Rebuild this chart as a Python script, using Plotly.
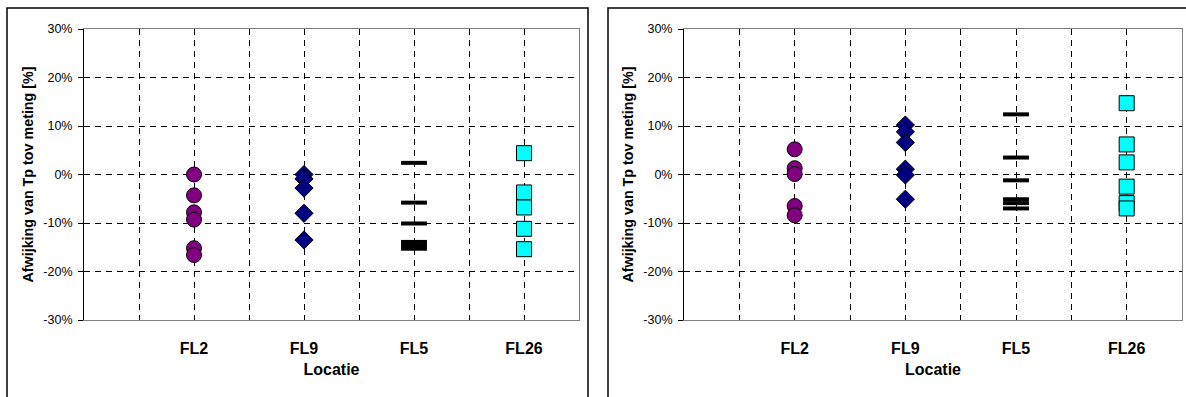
import plotly.graph_objects as go

# ---------------- data (percent deviation of Tp vs measurement) ----------------
categories = ["FL2", "FL9", "FL5", "FL26"]
cat_pos = [2, 4, 6, 8]
y_ticks = [-30, -20, -10, 0, 10, 20, 30]
y_ticktext = ["-30%", "-20%", "-10%", "0%", "10%", "20%", "30%"]
grid_y = [-20, -10, 0, 10, 20]
grid_x_minor = [1, 3, 5, 7]

left_FL2 = [0.0, -4.3, -7.8, -9.3, -15.2, -16.6]
left_FL9 = [0.0, -0.9, -2.8, -8.0, -13.5]
left_FL5 = [2.4, -5.8, -10.1, -13.9, -14.6, -15.3]
left_FL26 = [4.4, -3.7, -6.8, -11.2, -15.4]

right_FL2 = [5.2, 1.3, 0.1, -6.5, -8.4]
right_FL9 = [10.2, 8.8, 6.6, 1.1, -0.1, -5.1]
right_FL5 = [12.4, 3.5, -1.2, -5.1, -5.9, -7.0]
right_FL26 = [14.7, 6.2, 2.5, -2.5, -5.9, -7.0]

left_series = [left_FL2, left_FL9, left_FL5, left_FL26]
right_series = [right_FL2, right_FL9, right_FL5, right_FL26]

# ---------------- styles ----------------
W, H = 1186, 397
FONT = "Arial, 'Liberation Sans', sans-serif"
DASH = "6px,5px"

styles = [
    dict(symbol="circle", size=15, color="#800080", line=dict(color="black", width=1)),
    dict(symbol="diamond", size=14, color="#000080", line=dict(color="black", width=1)),
    dict(symbol="line-ew", size=18.5, color="black", line=dict(color="black", width=4)),
    dict(symbol="square", size=15, color="#00FFFF", line=dict(color="black", width=1)),
]

fig = go.Figure()

def add_panel(series, xa, ya):
    for name, pos, vals, st in zip(categories, cat_pos, series, styles):
        fig.add_trace(go.Scatter(
            x=[pos] * len(vals), y=vals, mode="markers", name=name,
            marker=st, xaxis=xa, yaxis=ya, showlegend=False, cliponaxis=False,
        ))

add_panel(left_series, "x", "y")
add_panel(right_series, "x2", "y2")
fig.add_trace(go.Scatter(x=[], y=[], xaxis="x", yaxis="y3", showlegend=False, hoverinfo="skip"))
fig.add_trace(go.Scatter(x=[], y=[], xaxis="x2", yaxis="y4", showlegend=False, hoverinfo="skip"))

px = lambda v: v / W
py = lambda v: 1 - v / H

ydom = [py(320), py(29)]
xdom1 = [px(84), px(579)]
xdom2 = [px(684), px(1182)]

def xaxis_cfg(dom, anchor):
    return dict(
        domain=dom, anchor=anchor, range=[0, 9], automargin=False,
        tickmode="array", tickvals=cat_pos, ticktext=categories,
        ticks="", ticklabelstandoff=14,
        tickfont=dict(family=FONT, size=16, color="black", weight="bold"),
        showgrid=True, gridcolor="black", griddash=DASH, gridwidth=1,
        minor=dict(tickmode="array", tickvals=grid_x_minor, showgrid=True,
                   gridcolor="black", griddash=DASH, gridwidth=1, ticks=""),
        showline=True, linecolor="#808080", linewidth=1, mirror=True,
        zeroline=False, fixedrange=True,
        title=dict(text="Locatie", standoff=7,
                   font=dict(family=FONT, size=16, color="black", weight="bold")),
    )

def yaxis_cfg(anchor):
    return dict(
        domain=ydom, anchor=anchor, range=[-30, 30], automargin=False,
        tickmode="array", tickvals=y_ticks, ticktext=y_ticktext,
        ticks="outside", ticklen=5, tickcolor="black", tickwidth=1,
        ticklabelstandoff=3,
        tickfont=dict(family=FONT, size=12.5, color="black"),
        showgrid=False, zeroline=False,
        showline=True, linecolor="black", linewidth=1, fixedrange=True,
        title=dict(text="Afwijking van Tp tov meting [%]", standoff=6,
                   font=dict(family=FONT, size=14.3, color="black", weight="bold")),
    )

def ygrid_cfg(anchor, over):
    return dict(
        domain=ydom, anchor=anchor, overlaying=over, side="right", range=[-30, 30],
        tickmode="array", tickvals=grid_y, showticklabels=False, ticks="",
        showgrid=True, gridcolor="black", griddash=DASH, gridwidth=1,
        zeroline=False, showline=True, linecolor="#808080", linewidth=1,
        fixedrange=True, automargin=False,
    )

fig.update_layout(
    width=W, height=H, autosize=False,
    margin=dict(l=0, r=0, t=0, b=0, pad=0, autoexpand=False),
    paper_bgcolor="white", plot_bgcolor="white",
    xaxis=xaxis_cfg(xdom1, "y"),
    xaxis2=xaxis_cfg(xdom2, "y2"),
    yaxis=yaxis_cfg("x"),
    yaxis2=yaxis_cfg("x2"),
    yaxis3=ygrid_cfg("x", "y"),
    yaxis4=ygrid_cfg("x2", "y2"),
    shapes=[
        dict(type="rect", xref="paper", yref="paper",
             x0=px(7), x1=px(588), y0=-0.1, y1=py(8),
             line=dict(color="black", width=1.5), fillcolor="rgba(0,0,0,0)", layer="above"),
        dict(type="rect", xref="paper", yref="paper",
             x0=px(608), x1=1.1, y0=-0.1, y1=py(8),
             line=dict(color="black", width=1.5), fillcolor="rgba(0,0,0,0)", layer="above"),
    ],
)

fig.write_html(
    "out.html",
    config={"displayModeBar": False},
    post_script="document.body.style.margin='0';document.body.style.overflow='hidden';",
)
